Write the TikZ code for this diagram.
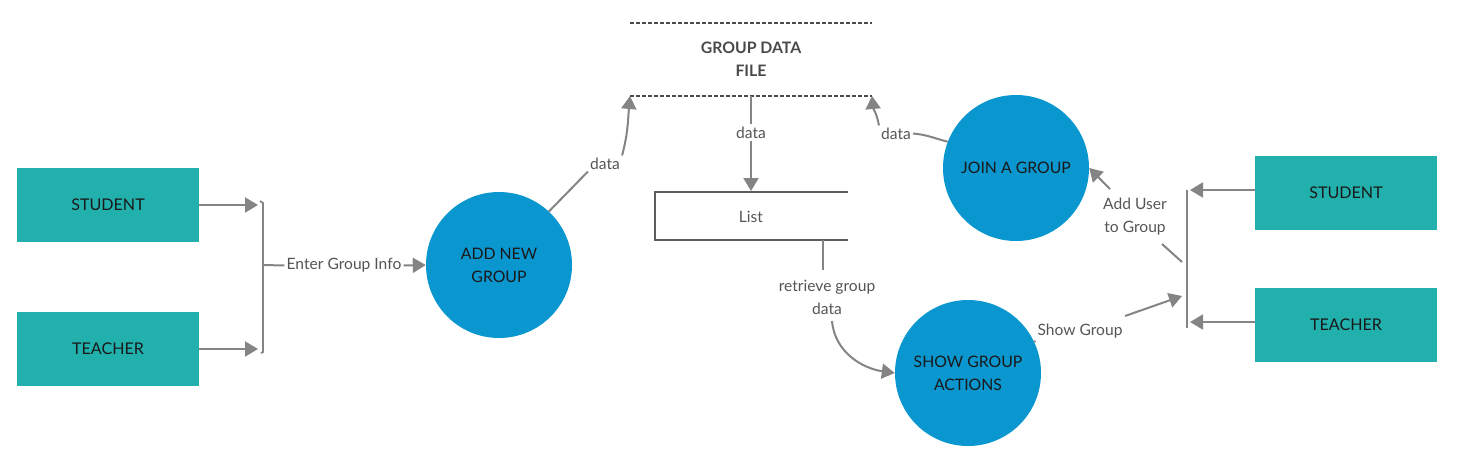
\documentclass[tikz,border=0pt]{standalone}
\usepackage{fontspec}
\setmainfont{Lato}
\usetikzlibrary{arrows.meta}
\definecolor{teal1}{HTML}{22B0AC}
\definecolor{blue1}{HTML}{0A96CF}
\definecolor{ln}{HTML}{848484}
\definecolor{txt}{HTML}{555555}
\definecolor{dk}{HTML}{4A4A4A}
\begin{document}
\begin{tikzpicture}[x=1pt,y=-1pt,
  ext/.style={fill=teal1, minimum width=182pt, minimum height=74pt, inner sep=0pt, text=black!90, font=\fontsize{16.1}{18}\selectfont},
  proc/.style={circle, fill=blue1, minimum size=146pt, inner sep=0pt, align=center, text=black!90, font=\fontsize{15.8}{23}\selectfont},
  flow/.style={draw=ln, line width=2pt, -{Triangle[length=13pt,width=15pt]}},
  plain/.style={draw=ln, line width=2pt},
  lbl/.style={text=txt, font=\fontsize{15.6}{23}\selectfont, align=center, inner sep=2pt},
  store/.style={draw=dk, line width=1.6pt, dash pattern=on 4pt off 2pt},
  listline/.style={draw=dk!90, line width=2pt}]
\useasboundingbox (0,0) rectangle (1461,472);

% external entities
\node[ext] (s1) at (108,204.5) {STUDENT};
\node[ext] (t1) at (108,349) {TEACHER};
\node[ext] (s2) at (1346,192.5) {STUDENT};
\node[ext] (t2) at (1346,325) {TEACHER};

% processes
\node[proc] (add) at (499,265) {ADD NEW\\GROUP};
\node[proc] (join) at (1016,168) {JOIN A GROUP};
\node[proc] (show) at (968,373) {SHOW GROUP\\ACTIONS};

% data store
\coordinate (dsTL) at (630,23);
\coordinate (dsTR) at (872,23);
\coordinate (dsBL) at (630,96);
\coordinate (dsBR) at (872,96);
\coordinate (dsBM) at (751,96);
\draw[store] (dsTL) -- (dsTR);
\draw[store] (dsBL) -- (dsBR);
\node[text=dk, font=\bfseries\fontsize{15.8}{23}\selectfont, align=center] (dsf) at (751,59.5) {GROUP DATA\\FILE};

% list store
\coordinate (lTR) at (848,192);
\coordinate (lTL) at (655,192);
\coordinate (lBL) at (655,240);
\coordinate (lBR) at (848,240);
\coordinate (lTM) at (751,191);
\coordinate (lBO) at (823,240);
\draw[listline] (lTR) -- (lTL) -- (lBL) -- (lBR);
\node[text=txt, font=\fontsize{15.6}{18}\selectfont] (list) at (751,216.5) {List};

% left bracket
\coordinate (lbT) at (263,203);
\coordinate (lbB) at (263,352);
\coordinate (lbM) at (263,265);
\coordinate (lbA) at (258,205);
\coordinate (lbC) at (258,349);
\draw[plain, line width=1.8pt] (260,201) -- (lbT) -- (lbB) -- (261,353);
\draw[flow] (s1.east |- lbA) -- (lbA);
\draw[flow] (t1.east |- lbC) -- (lbC);
\node[lbl] (egi) at (344,265.5) {Enter Group Info};
\draw[plain] (lbM) -- (egi.west);
\draw[flow] (egi.east) -- (add.west);

% add -> data store
\node[lbl] (d1) at (605,163.5) {data};
\draw[plain] (add.47) -- (d1.south west);
\draw[flow] (d1.north east) to[out=75, in=-95] (dsBL);

% data store -> list
\node[lbl] (d2) at (751,132.5) {data};
\draw[plain] (dsBM) -- (d2.north);
\draw[flow] (d2.south) -- (lTM);

% list -> show
\node[lbl] (rg) at (827,297) {retrieve group\\data};
\draw[plain] (lBO) -- (823,270);
\draw[flow] (832,321) to[out=-85, in=172] (show.west);

% join -> data store
\node[lbl] (d3) at (896,133.5) {data};
\draw[plain] (join.159) to[out=165, in=-5] (d3.east);
\draw[flow] (d3.north west) to[out=100, in=-85] (dsBR);

% right bracket
\coordinate (rbT) at (1187,190);
\coordinate (rbB) at (1187,328);
\coordinate (rbA) at (1190,190);
\coordinate (rbC) at (1190,322);
\coordinate (rbU) at (1182,262);
\coordinate (rbS) at (1182,296);
\draw[plain, line width=1.8pt] (rbT) -- (rbB);
\draw[flow] (s2.west |- rbA) -- (rbA);
\draw[flow] (t2.west |- rbC) -- (rbC);

% add user
\node[lbl] (au) at (1135,216.5) {Add User\\to Group};
\draw[plain] (rbU) -- (1162,244);
\draw[flow] (1110,189) -- (join.east);

% show group
\node[lbl] (sg) at (1080,331.5) {Show Group};
\draw[plain] (show.25) -- (sg.south west);
\draw[flow] (1125,316) -- (rbS);
\end{tikzpicture}
\end{document}
